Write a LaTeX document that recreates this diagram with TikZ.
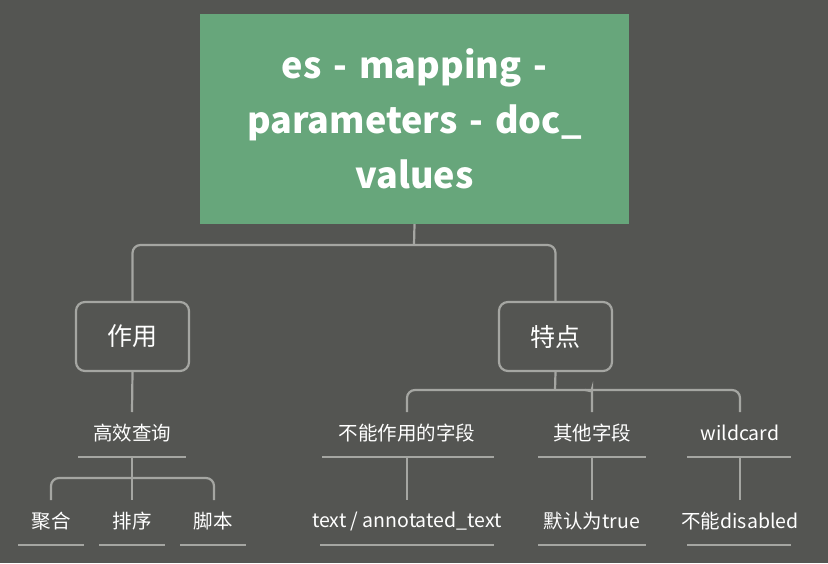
\documentclass[tikz,border=0pt]{standalone}
\usepackage{fontspec}
\setmainfont{Noto Sans CJK SC}
\definecolor{bg}{RGB}{84,85,82}
\definecolor{ln}{RGB}{165,166,162}
\definecolor{root}{RGB}{103,166,123}
\begin{document}
\begin{tikzpicture}[x=1pt,y=-1pt,
  conn/.style={draw=ln,line width=2.2pt,rounded corners=8pt},
  stem/.style={draw=ln,line width=2.2pt},
  topic/.style={draw=ln,line width=2.2pt,rounded corners=9pt,fill=bg,text=white,minimum width=113pt,minimum height=69pt,font=\fontsize{25}{30}\selectfont,inner sep=0},
  lbl/.style={text=white,font=\fontsize{19.5}{22}\selectfont,inner sep=0},
  ul/.style={draw=ln,line width=2.2pt}]
\fill[bg] (0,0) rectangle (828,563);
\useasboundingbox (0,0) rectangle (828,563);
\node[fill=root,minimum width=429pt,minimum height=210pt,text width=420pt,align=center,text=white,font=\bfseries\fontsize{36}{55}\selectfont,inner sep=0] (r) at (414.5,119) {es - mapping -\\parameters - doc\_\\values};
\node[topic] (a) at (132.5,336.5) {作用};
\node[topic] (b) at (555.5,336.5) {特点};
\coordinate (rj) at (414,245);
\draw[stem] (r.south) -- (rj);
\draw[conn] (a.north) |- (rj) -| (b.north);
% level 2
\node[lbl] (c1) at (132,433) {高效查询};
\node[lbl] (d1) at (407,433) {不能作用的字段};
\node[lbl] (d2) at (592,433) {其他字段};
\node[lbl] (d3) at (740,433) {wildcard};
\coordinate (c1u) at (132,457);
\coordinate (d1u) at (407,457);
\coordinate (d2u) at (592,457);
\coordinate (d3u) at (740,457);
\draw[ul] (78,457) -- (186,457);
\draw[ul] (322,457) -- (494,457);
\draw[ul] (538,457) -- (646,457);
\draw[ul] (687,457) -- (791,457);
\draw[stem] (a.south) -- (132,412);
\coordinate (bj) at (555,390);
\draw[stem] (b.south) -- (bj);
\draw[conn] (407,412) |- (bj) -| (740,412);
\draw[conn] (592,412) -- (592,397) to[out=90,in=0] (585,390);
% level 3
\node[lbl] (e1) at (51,521) {聚合};
\node[lbl] (e2) at (132,521) {排序};
\node[lbl] (e3) at (213,521) {脚本};
\node[lbl] (f1) at (407,521) {text / annotated\_text};
\node[lbl] (f2) at (592,521) {默认为true};
\node[lbl] (f3) at (740,521) {不能disabled};
\draw[ul] (18,545) -- (84,545);
\draw[ul] (99,545) -- (165,545);
\draw[ul] (180,545) -- (246,545);
\draw[ul] (320,545) -- (494,545);
\draw[ul] (538,545) -- (646,545);
\draw[ul] (687,545) -- (791,545);
\coordinate (cj) at (132,478);
\draw[stem] (c1u) -- (132,500);
\draw[conn] (51,500) |- (cj) -| (214,500);
\draw[stem] (d1u) -- (407,500);
\draw[stem] (d2u) -- (592,500);
\draw[stem] (d3u) -- (740,500);
\end{tikzpicture}
\end{document}
